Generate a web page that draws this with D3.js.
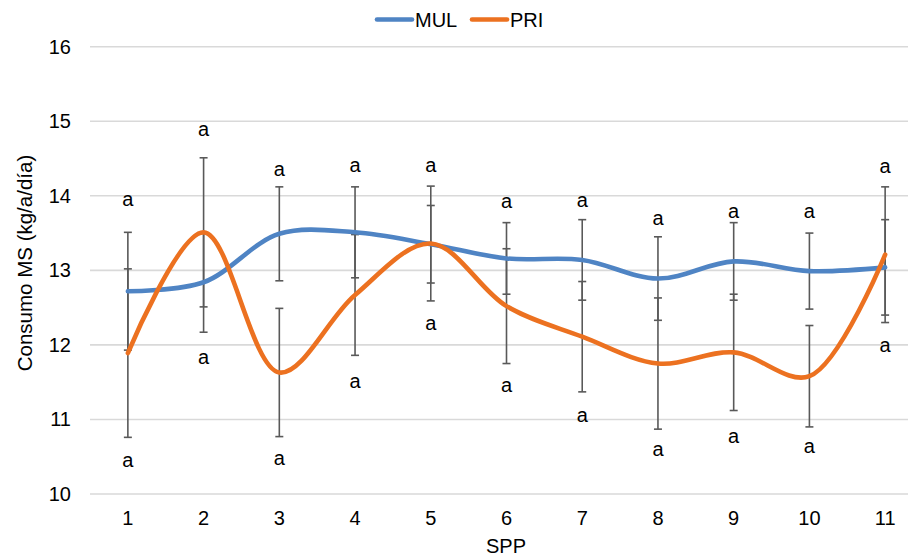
<html>
    <head>
        <script src="https://d3js.org/d3.v7.min.js"></script>
        <style>
            body { margin: 0; background: #fff; }
            text { font-family: "Liberation Sans", Arial, sans-serif; fill: #000; }
        </style>
    </head>
    <body>
        <svg width="908" height="556"></svg>
        <script>
        // data
        const categories = ['1', '2', '3', '4', '5', '6', '7', '8', '9', '10', '11'];
        const mul = [12.72, 12.84, 13.49, 13.51, 13.35, 13.16, 13.14, 12.89, 13.12, 12.99, 13.04];
        const pri = [11.89, 13.51, 11.63, 12.67, 13.36, 12.52, 12.11, 11.75, 11.90, 11.58, 13.21];
        const mulErr = [0.79, 0.67, 0.63, 0.61, 0.52, 0.48, 0.54, 0.56, 0.52, 0.51, 0.64];
        const priErr = [1.13, 1.00, 0.86, 0.81, 0.77, 0.77, 0.74, 0.88, 0.78, 0.68, 0.91];
        const letterTop = ['a', 'a', 'a', 'a', 'a', 'a', 'a', 'a', 'a', 'a', 'a'];
        const letterTopAt = [13.93, 14.88, 14.34, 14.39, 14.39, 13.91, 13.92, 13.68, 13.77, 13.77, 14.38];
        const letterBottom = ['a', 'a', 'a', 'a', 'a', 'a', 'a', 'a', 'a', 'a', 'a'];
        const letterBottomAt = [10.43, 11.82, 10.46, 11.49, 12.27, 11.44, 11.04, 10.58, 10.76, 10.62, 11.98];
        const yTicks = [10, 11, 12, 13, 14, 15, 16];

        const series = [
            { name: 'MUL', values: mul, err: mulErr, color: '#4f84c4' },
            { name: 'PRI', values: pri, err: priErr, color: '#ec7120' }
        ];

        const svg = d3.select('svg');
        const fontSize = 20;

        const x = d3.scaleBand().domain(categories).range([90, 923]).padding(0);
        const y = d3.scaleLinear().domain([10, 16]).range([494, 46.7]);
        const cx = c => x(c) + x.bandwidth() / 2;

        // gridlines
        svg.append('g').selectAll('line').data(yTicks).join('line')
            .attr('x1', 90).attr('x2', 923)
            .attr('y1', d => y(d)).attr('y2', d => y(d))
            .attr('stroke', '#d9d9d9').attr('stroke-width', 1.6);

        // y tick labels
        svg.append('g').selectAll('text').data(yTicks).join('text')
            .attr('x', 71).attr('y', d => y(d)).attr('dy', '0.35em')
            .attr('text-anchor', 'end').style('font-size', fontSize + 'px')
            .text(d => d);

        // x tick labels
        svg.append('g').selectAll('text').data(categories).join('text')
            .attr('x', d => cx(d)).attr('y', 525)
            .attr('text-anchor', 'middle').style('font-size', fontSize + 'px')
            .text(d => d);

        // axis titles
        svg.append('text').attr('x', 506).attr('y', 553)
            .attr('text-anchor', 'middle').style('font-size', fontSize + 'px').text('SPP');
        svg.append('text').attr('transform', 'translate(32,263) rotate(-90)')
            .attr('text-anchor', 'middle').style('font-size', '20.5px')
            .text('Consumo MS (kg/a/día)');

        // error bars
        const errG = svg.append('g').attr('stroke', '#595959').attr('stroke-width', 1.6);
        series.forEach(s => {
            categories.forEach((c, i) => {
                const hi = y(s.values[i] + s.err[i]);
                const lo = y(s.values[i] - s.err[i]);
                errG.append('line').attr('x1', cx(c)).attr('x2', cx(c)).attr('y1', hi).attr('y2', lo);
                errG.append('line').attr('x1', cx(c) - 4).attr('x2', cx(c) + 4).attr('y1', hi).attr('y2', hi);
                errG.append('line').attr('x1', cx(c) - 4).attr('x2', cx(c) + 4).attr('y1', lo).attr('y2', lo);
            });
        });

        // smoothed lines
        const line = d3.line()
            .x((d, i) => cx(categories[i]))
            .y(d => y(d))
            .curve(d3.curveCatmullRom.alpha(0.5));
        svg.append('g').selectAll('path').data(series).join('path')
            .attr('d', d => line(d.values))
            .attr('fill', 'none')
            .attr('stroke', d => d.color)
            .attr('stroke-width', 4.6)
            .attr('stroke-linecap', 'round');

        // significance letters
        svg.append('g').selectAll('text').data(categories).join('text')
            .attr('x', d => cx(d)).attr('y', (d, i) => y(letterTopAt[i])).attr('dy', '0.27em')
            .attr('text-anchor', 'middle').style('font-size', fontSize + 'px')
            .text((d, i) => letterTop[i]);
        svg.append('g').selectAll('text').data(categories).join('text')
            .attr('x', d => cx(d)).attr('y', (d, i) => y(letterBottomAt[i])).attr('dy', '0.27em')
            .attr('text-anchor', 'middle').style('font-size', fontSize + 'px')
            .text((d, i) => letterBottom[i]);

        // legend
        const legend = svg.append('g');
        const legendX = [377, 472];
        series.forEach((s, i) => {
            legend.append('line')
                .attr('x1', legendX[i]).attr('x2', legendX[i] + 35)
                .attr('y1', 19.5).attr('y2', 19.5)
                .attr('stroke', s.color).attr('stroke-width', 4.6).attr('stroke-linecap', 'round');
            legend.append('text')
                .attr('x', legendX[i] + 38).attr('y', 26.5)
                .style('font-size', fontSize + 'px').text(s.name);
        });
        </script>
    </body>
</html>
